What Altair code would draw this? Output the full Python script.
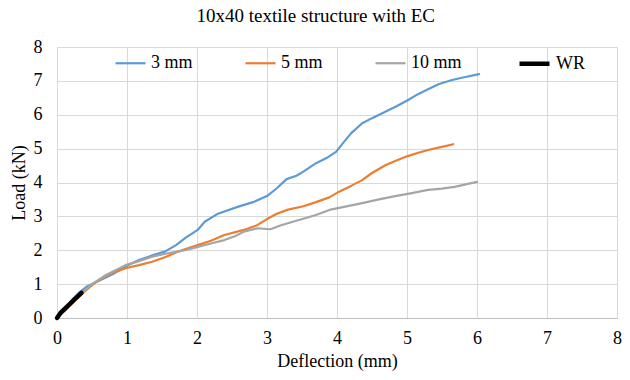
import altair as alt
import pandas as pd

series_names = ["3 mm", "5 mm", "10 mm", "WR"]
colors = ["#5B9BD5", "#ED7D31", "#A5A5A5", "#000000"]
widths = [2.2, 2.2, 2.2, 4.5]

x_3mm = [0.0, 0.1, 0.2, 0.32, 0.42, 0.6, 0.8, 1.0, 1.17, 1.35, 1.54, 1.7, 1.83, 2.01, 2.11, 2.3, 2.58, 2.8, 3.0, 3.14, 3.28, 3.42, 3.52, 3.7, 3.85, 3.99, 4.1, 4.2, 4.36, 4.5, 4.69, 4.85, 5.01, 5.15, 5.3, 5.45, 5.63, 5.8, 6.03]
y_3mm = [0.0, 0.25, 0.5, 0.76, 0.92, 1.1, 1.3, 1.54, 1.71, 1.84, 1.96, 2.15, 2.36, 2.6, 2.84, 3.08, 3.28, 3.42, 3.6, 3.83, 4.1, 4.2, 4.32, 4.57, 4.72, 4.91, 5.2, 5.45, 5.75, 5.9, 6.09, 6.25, 6.43, 6.6, 6.75, 6.9, 7.02, 7.1, 7.2]

x_5mm = [0.0, 0.15, 0.37, 0.55, 0.75, 0.98, 1.17, 1.36, 1.55, 1.73, 2.01, 2.2, 2.39, 2.67, 2.86, 3.0, 3.14, 3.3, 3.52, 3.7, 3.89, 4.03, 4.2, 4.36, 4.5, 4.69, 4.85, 5.01, 5.15, 5.3, 5.5, 5.66]
y_5mm = [0.0, 0.3, 0.74, 1.05, 1.3, 1.47, 1.56, 1.66, 1.8, 1.96, 2.15, 2.28, 2.45, 2.6, 2.74, 2.92, 3.08, 3.2, 3.3, 3.42, 3.56, 3.73, 3.9, 4.07, 4.28, 4.51, 4.65, 4.78, 4.87, 4.96, 5.05, 5.13]

x_10mm = [0.0, 0.15, 0.32, 0.5, 0.7, 0.98, 1.17, 1.36, 1.6, 1.83, 2.01, 2.2, 2.39, 2.55, 2.67, 2.86, 3.05, 3.2, 3.42, 3.7, 3.89, 4.1, 4.36, 4.6, 4.83, 5.05, 5.3, 5.5, 5.68, 6.0]
y_10mm = [0.0, 0.3, 0.68, 1.0, 1.27, 1.56, 1.68, 1.81, 1.92, 2.0, 2.1, 2.2, 2.3, 2.42, 2.55, 2.65, 2.62, 2.74, 2.87, 3.04, 3.19, 3.28, 3.39, 3.5, 3.6, 3.68, 3.78, 3.82, 3.87, 4.02]

x_wr = [0.0, 0.05, 0.14, 0.25, 0.35]
y_wr = [0.0, 0.15, 0.33, 0.55, 0.74]

rows = []
for name, xs, ys in [("3 mm", x_3mm, y_3mm), ("5 mm", x_5mm, y_5mm), ("10 mm", x_10mm, y_10mm), ("WR", x_wr, y_wr)]:
    for i, (a, b) in enumerate(zip(xs, ys)):
        rows.append({"series": name, "x": a, "y": b, "i": i})
df = pd.DataFrame(rows)

FONT = "Liberation Serif"

legend = alt.Legend(
    title=None, orient="none", legendX=57, legendY=-1, direction="horizontal",
    symbolType="stroke", symbolSize=900, labelFont=FONT, labelFontSize=18,
    labelColor="#000000", columnPadding=48, labelOffset=4,
)

axis_common = dict(values=list(range(0, 9)), format="d", labelFont=FONT, labelFontSize=18,
                   labelColor="#000000", titleFont=FONT, titleFontSize=18,
                   titleFontWeight="normal", titleColor="#000000", labelFlush=False)

chart = alt.Chart(df).mark_line(strokeCap="round", strokeJoin="round").encode(
    x=alt.X("x:Q", scale=alt.Scale(domain=[0, 8], nice=False), title="Deflection (mm)",
            axis=alt.Axis(labelPadding=11, titlePadding=5, **axis_common)),
    y=alt.Y("y:Q", scale=alt.Scale(domain=[0, 8], nice=False), title="Load (kN)",
            axis=alt.Axis(labelPadding=15, titlePadding=5, **axis_common)),
    color=alt.Color("series:N", scale=alt.Scale(domain=series_names, range=colors), legend=legend),
    strokeWidth=alt.StrokeWidth("series:N", scale=alt.Scale(type="ordinal", domain=series_names, range=widths), legend=legend),
    order="i:Q",
).properties(
    width=560, height=271,
    title=alt.TitleParams("10x40 textile structure with EC", font=FONT, fontSize=19,
                          fontWeight="normal", color="#000000", offset=12, frame="bounds"),
    autosize=alt.AutoSizeParams(type="none"),
    padding={"left": 49, "top": 39, "right": 5, "bottom": 54},
).configure(font=FONT).configure_view(stroke=None).configure_axis(
    grid=True, gridColor="#D9D9D9", gridWidth=1, ticks=False, domain=False,
).configure_axisX(domain=True, domainColor="#BFBFBF")

chart.save("out.html", embed_options={"renderer": "svg", "actions": False})
